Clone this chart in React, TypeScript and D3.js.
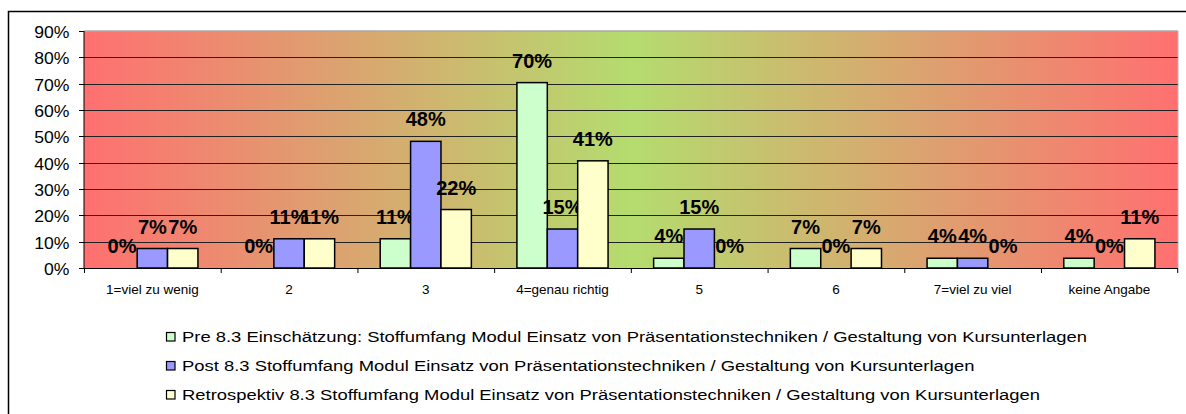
import React from "react";
import * as d3 from "d3";

const categories = ["1=viel zu wenig", "2", "3", "4=genau richtig", "5", "6", "7=viel zu viel", "keine Angabe"];
const preValues = [0, 0, 11.1, 70.4, 3.7, 7.4, 3.7, 3.7];
const postValues = [7.4, 11.1, 48.1, 14.8, 14.8, 0, 3.7, 0];
const retroValues = [7.4, 11.1, 22.2, 40.7, 0, 7.4, 0, 11.1];
const seriesNames = [
  "Pre 8.3 Einschätzung: Stoffumfang Modul Einsatz von Präsentationstechniken / Gestaltung von Kursunterlagen",
  "Post 8.3 Stoffumfang Modul Einsatz von Präsentationstechniken / Gestaltung von Kursunterlagen",
  "Retrospektiv 8.3 Stoffumfang Modul Einsatz von Präsentationstechniken / Gestaltung von Kursunterlagen",
];
const seriesColors = ["#CCFFCC", "#9999FF", "#FFFFCC"];
const yTicks = [0, 10, 20, 30, 40, 50, 60, 70, 80, 90];

const FONT = "'Liberation Sans', Arial, sans-serif";

export default function App() {
  const left = 84, right = 1177.7, top = 31, bottom = 268;
  const x = d3.scaleBand<string>().domain(categories).range([left, right]).padding(0);
  const keys = ["pre", "post", "retro"];
  const inner = d3.scaleBand<string>().domain(keys).range([0, x.bandwidth()]).paddingInner(0).paddingOuter(0.75);
  const y = d3.scaleLinear().domain([0, 90]).range([bottom, top]);
  const allValues = [preValues, postValues, retroValues];

  return (
    <svg width={1186} height={414} style={{ position: "absolute", left: 0, top: 0 }} fontFamily={FONT}>
      <defs>
        <linearGradient id="bg" x1="0" x2="1" y1="0" y2="0">
          <stop offset="0" stopColor="#FF7070" />
          <stop offset="0.5" stopColor="#B4DC6E" />
          <stop offset="1" stopColor="#FF7070" />
        </linearGradient>
      </defs>
      <rect x={0} y={0} width={1186} height={414} fill="#fff" />
      <rect x={8.5} y={11.5} width={1200} height={420} fill="#fff" stroke="#000" strokeWidth={1.5} />
      <rect x={left} y={top} width={right - left} height={bottom - top} fill="url(#bg)" />
      <line x1={left} x2={right} y1={top} y2={top} stroke="#A8A8A8" strokeWidth={1.5} />
      <line x1={right} x2={right} y1={top} y2={bottom} stroke="#A8A8A8" strokeWidth={1.5} />
      {yTicks.slice(1, -1).map((t) => (
        <line key={t} x1={left} x2={right} y1={Math.round(y(t)) + 0.5} y2={Math.round(y(t)) + 0.5} stroke="#222" strokeWidth={1} />
      ))}
      {yTicks.map((t) => (
        <g key={"yt" + t}>
          <line x1={left - 5} x2={left} y1={Math.round(y(t)) + 0.5} y2={Math.round(y(t)) + 0.5} stroke="#000" />
          <text transform={`translate(69.5,${y(t) + 7}) scale(1.1,1)`} textAnchor="end" fontSize={16} fill="#000">{t}%</text>
        </g>
      ))}
      {allValues.map((vals, si) => (
        <g key={"s" + si}>
          {vals.map((v, ci) => {
            const bx = (x(categories[ci]) as number) + (inner(keys[si]) as number);
            const bw = inner.bandwidth();
            return v > 0 ? (
              <rect key={ci} x={bx} y={y(v)} width={bw} height={bottom - y(v)} fill={seriesColors[si]} stroke="#000" strokeWidth={1.5} />
            ) : null;
          })}
          {vals.map((v, ci) => {
            const bx = (x(categories[ci]) as number) + (inner(keys[si]) as number) + inner.bandwidth() / 2;
            return (
              <text key={"l" + ci} x={bx} y={y(v) - 15} textAnchor="middle" fontSize={20} fontWeight="bold" fill="#000">
                {Math.round(v)}%
              </text>
            );
          })}
        </g>
      ))}
      <line x1={left} x2={left} y1={top} y2={bottom} stroke="#000" strokeWidth={1} />
      <line x1={left} x2={right} y1={bottom + 0.5} y2={bottom + 0.5} stroke="#000" strokeWidth={1} />
      {categories.map((c, i) => (
        <g key={"xt" + i}>
          <line x1={(x(c) as number) + 0.5} x2={(x(c) as number) + 0.5} y1={bottom} y2={bottom + 5} stroke="#000" />
          <text x={(x(c) as number) + x.bandwidth() / 2} y={294} textAnchor="middle" fontSize={13.5} fill="#000">{c}</text>
        </g>
      ))}
      <line x1={right} x2={right} y1={bottom} y2={bottom + 5} stroke="#000" />
      {seriesNames.map((n, i) => (
        <g key={"lg" + i}>
          <rect x={166.5} y={332.5 + i * 29} width={8.5} height={8.5} fill={seriesColors[i]} stroke="#000" strokeWidth={1.2} />
          <text transform={`translate(182,${342 + i * 29}) scale(1.27,1)`} fontSize={14.5} fill="#000">{n}</text>
        </g>
      ))}
    </svg>
  );
}
